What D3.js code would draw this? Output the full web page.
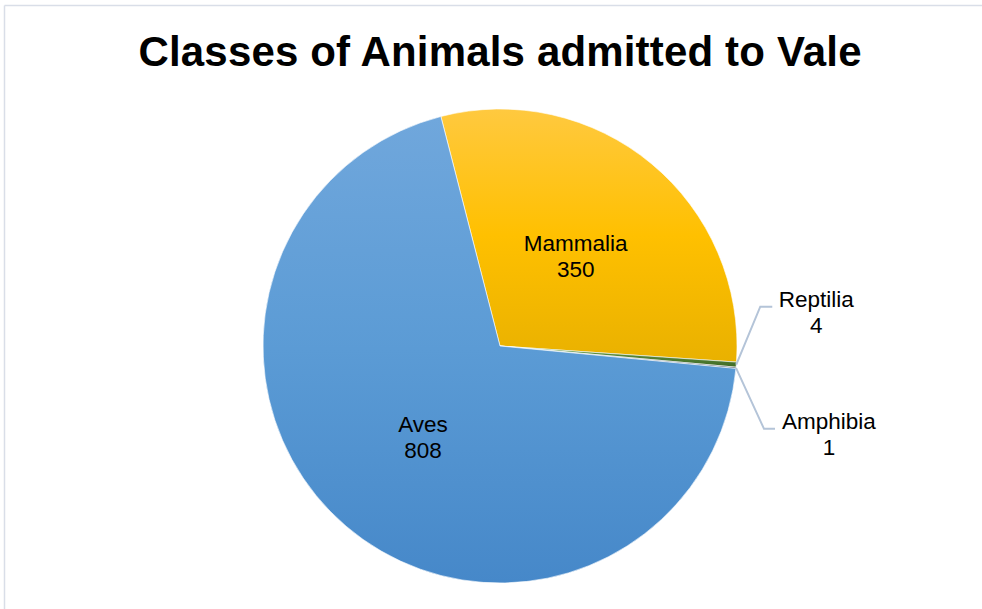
<!DOCTYPE html>
<html><head><meta charset="utf-8">
<script src="https://cdn.jsdelivr.net/npm/d3@7"></script>
<style>
html,body{margin:0;padding:0;background:#fff;}
svg{display:block;}
text{font-family:"Liberation Sans",Arial,sans-serif;fill:#000;}
</style></head>
<body>
<svg id="chart" width="982" height="609"></svg>
<script>
const title = "Classes of Animals admitted to Vale";
const categories = ["Mammalia", "Reptilia", "Amphibia", "Aves"];
const values = [350, 4, 1, 808];
const colorsTop = ["#ffc93f", "#6aa84f", "#5f7fa8", "#70a7dc"];
const colorsMid = ["#ffc000", "#548235", "#44546a", "#5b9bd5"];
const colorsBot = ["#e9b100", "#3f6a26", "#2f3d50", "#4688c9"];

const W = 982, H = 609;
const cx = 500, cy = 346, R = 237;
const startDeg = -14.45;

const svg = d3.select("#chart");

// frame
svg.append("line").attr("x1", 4.5).attr("x2", W).attr("y1", 5.5).attr("y2", 5.5)
  .attr("stroke", "#d9dee8").attr("stroke-width", 1.5);
svg.append("line").attr("x1", 4.5).attr("x2", 4.5).attr("y1", 5.5).attr("y2", H)
  .attr("stroke", "#d9dee8").attr("stroke-width", 1.5);

// title
svg.append("text").attr("x", 500).attr("y", 66).attr("text-anchor", "middle")
  .attr("font-size", 42).attr("font-weight", "bold")
  .attr("textLength", 723).attr("lengthAdjust", "spacing").text(title);

const defs = svg.append("defs");
categories.forEach((c, i) => {
  const g = defs.append("linearGradient").attr("id", "grad" + i)
    .attr("x1", 0).attr("y1", 0).attr("x2", 0).attr("y2", 1);
  g.append("stop").attr("offset", "0%").attr("stop-color", colorsTop[i]);
  g.append("stop").attr("offset", "50%").attr("stop-color", colorsMid[i]);
  g.append("stop").attr("offset", "100%").attr("stop-color", colorsBot[i]);
});

const pie = d3.pie().sort(null).value(d => d.v)
  .startAngle(startDeg * Math.PI / 180)
  .endAngle(startDeg * Math.PI / 180 + 2 * Math.PI);
const data = categories.map((c, i) => ({c, v: values[i], i}));
const arcs = pie(data);
const arc = d3.arc().innerRadius(0).outerRadius(R);
const labelArc = d3.arc().innerRadius(R * 0.5).outerRadius(R * 0.5);

const g = svg.append("g").attr("transform", `translate(${cx},${cy})`);
g.selectAll("path.slice").data(arcs).enter().append("path")
  .attr("class", "slice")
  .attr("d", arc)
  .attr("fill", d => `url(#grad${d.data.i})`)
  .attr("stroke", "#ffffff").attr("stroke-width", 0.6);

const fs = 22.5, lh = 26;
// inside labels for big slices
arcs.filter(d => d.data.v > 50).forEach(d => {
  const [x, y] = labelArc.centroid(d);
  const t = g.append("text").attr("text-anchor", "middle").attr("font-size", fs);
  t.append("tspan").attr("x", x).attr("y", y - 4).text(d.data.c);
  t.append("tspan").attr("x", x).attr("y", y - 4 + lh).text(d.data.v);
});

// outside labels for small slices with leader lines
const outside = arcs.filter(d => d.data.v <= 50);
const outerOffsets = [ {dy: -58, bend: 24, tail: 12, lx: 80}, {dy: 61, bend: 28, tail: 11, lx: 93} ];
outside.forEach((d, k) => {
  const a = (d.startAngle + d.endAngle) / 2;
  const px = R * Math.sin(a), py = -R * Math.cos(a);
  const o = outerOffsets[k];
  const bx = px + o.bend, by = py + o.dy;
  g.append("polyline")
    .attr("points", [[px, py], [bx, by], [bx + o.tail, by]].map(p => p.join(",")).join(" "))
    .attr("fill", "none").attr("stroke", "#b4c4d8").attr("stroke-width", 2);
  const lx = px + o.lx;
  const t = g.append("text").attr("text-anchor", "middle").attr("font-size", fs);
  t.append("tspan").attr("x", lx).attr("y", by).text(d.data.c);
  t.append("tspan").attr("x", lx).attr("y", by + lh).text(d.data.v);
});
</script>
</body></html>
